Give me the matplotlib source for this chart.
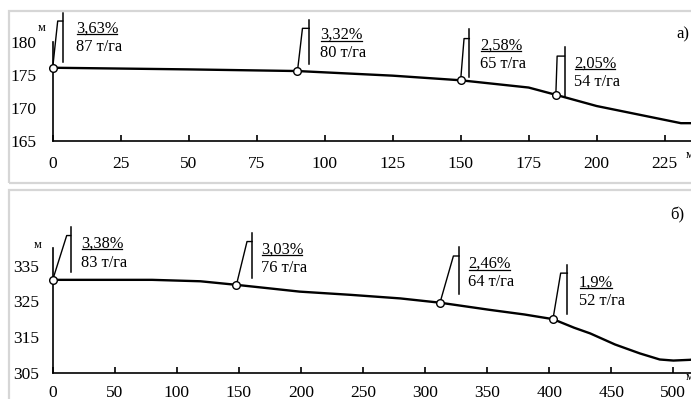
import matplotlib
matplotlib.use("Agg")
import matplotlib.pyplot as plt
from matplotlib.transforms import ScaledTranslation, IdentityTransform
from matplotlib.patches import Rectangle
from matplotlib.lines import Line2D

plt.rcParams['font.family'] = ['Liberation Serif', 'DejaVu Serif']

# profile a)
dist_a = [0, 50, 90, 125, 150, 175, 185, 200, 231, 240]
elev_a = [176.1, 175.85, 175.6, 174.9, 174.2, 173.1, 172.0, 170.3, 167.7, 167.7]
st_a = [0, 90, 150, 185]
st_elev_a = [176.1, 175.6, 174.2, 172.0]
pct_a = ['3,63%', '3,32%', '2,58%', '2,05%']
load_a = ['87 т/га', '80 т/га', '65 т/га', '54 т/га']

# profile б)
dist_b = [0, 50, 80, 119, 148, 175, 199, 240, 280, 312, 352, 380, 403, 420, 433,
          453, 473, 489, 500, 513, 520]
elev_b = [331.0, 331.0, 331.0, 330.6, 329.6, 328.6, 327.7, 326.8, 325.8, 324.6,
          322.6, 321.3, 320.0, 317.6, 316.0, 312.9, 310.4, 308.7, 308.4, 308.6, 308.8]
st_b = [0, 148, 312, 403]
st_elev_b = [331.0, 329.6, 324.6, 320.0]
pct_b = ['3,38%', '3,03%', '2,46%', '1,9%']
load_b = ['83 т/га', '76 т/га', '64 т/га', '52 т/га']

# flag geometry in pixels: slant dx, top dy, cap dx, vline top, vline bottom, text dx, line1 dy, line2 dy
flags_a = [(5, 46.7, 10, 54.7, 5.7, 23.3, 39.4, 21),
           (5, 42.7, 11.7, 51, 6.7, 23, 36, 18),
           (3.4, 41.7, 8.7, 51, 3, 19.4, 34.3, 16),
           (1.3, 38.7, 8.7, 48, -2, 18.3, 31.4, 13)]
flags_b = [(14, 44.3, 18, 53.3, 8.3, 28.3, 36.7, 17.3),
           (10.6, 43.3, 15.6, 51.7, 6.7, 24.3, 35.7, 17.3),
           (13.4, 46.7, 19, 55.4, 8.7, 28.4, 38.7, 21),
           (7.7, 46, 14.4, 54.3, 5.3, 26, 36.6, 18.3)]

W, H = 691, 399
fig = plt.figure(figsize=(W / 100, H / 100), dpi=100)

# grey panel frames
for y0, y1 in [(11, 183), (190, 420)]:
    fig.add_artist(Rectangle((9, H - y1), 700, y1 - y0, fill=False, ec='#d6d6d6',
                             lw=1.6, transform=IdentityTransform()))


def make_axes(left_px, y_bottom_px, y_top_px):
    return fig.add_axes((left_px / W, (H - y_bottom_px) / H,
                         (W - left_px) / W, (y_bottom_px - y_top_px) / H))


ax_a = make_axes(52.7, 141, 42)
ax_b = make_axes(52.7, 372.7, 247.7)

underlines = []


def draw_panel(ax, dist, elev, st, st_elev, pct, load, flags, xlim, ylim, xticks, yticks, pads):
    ax.set_xlim(*xlim)
    ax.set_ylim(*ylim)
    ax.patch.set_alpha(0)
    for s in ['top', 'right']:
        ax.spines[s].set_visible(False)
    for s in ['left', 'bottom']:
        ax.spines[s].set_linewidth(1.2)
    ax.set_xticks(xticks)
    ax.set_yticks(yticks)
    ax.tick_params(axis='x', direction='in', length=4, width=1.2, pad=pads[0], labelsize=12.5)
    ax.tick_params(axis='y', length=0, pad=pads[1], labelsize=12.5)
    ax.plot(dist, elev, color='black', lw=1.7, clip_on=True, zorder=3)
    ax.plot(st, st_elev, 'o', ms=5.5, mfc='white', mec='black', mew=1.0, zorder=5, clip_on=False)
    for x, y, p, l, f in zip(st, st_elev, pct, load, flags):
        sdx, tdy, cdx, vt, vb, tdx, l1, l2 = f
        tr = fig.dpi_scale_trans + ScaledTranslation(x, y, ax.transData)
        ax.plot([0, sdx / 100, cdx / 100], [0, tdy / 100, tdy / 100], color='black',
                lw=1.0, transform=tr, clip_on=False, zorder=4)
        ax.plot([cdx / 100, cdx / 100], [vt / 100, vb / 100], color='black',
                lw=1.1, transform=tr, clip_on=False, zorder=4)
        t1 = ax.text(tdx / 100, l1 / 100, p, transform=tr, ha='left', va='center',
                     fontsize=11.8)
        ax.text(tdx / 100, l2 / 100, l, transform=tr, ha='left', va='center', fontsize=11.8)
        underlines.append(t1)


draw_panel(ax_a, dist_a, elev_a, st_a, st_elev_a, pct_a, load_a, flags_a,
           (0, 234.7), (165, 180), [0, 25, 50, 75, 100, 125, 150, 175, 200, 225],
           [165, 170, 175, 180], (11, 12))
draw_panel(ax_b, dist_b, elev_b, st_b, st_elev_b, pct_b, load_b, flags_b,
           (0, 514.2), (305, 340), [0, 50, 100, 150, 200, 250, 300, 350, 400, 450, 500],
           [305, 315, 325, 335], (9, 10))

# unit labels and panel letters
fig.text(41.7 / W, 1 - 28 / H, 'м', fontsize=9, ha='center', va='center')
fig.text(686 / W, 1 - 155 / H, 'м', fontsize=9, ha='left', va='center')
fig.text(38 / W, 1 - 245 / H, 'м', fontsize=9, ha='center', va='center')
fig.text(686 / W, 1 - 377 / H, 'м', fontsize=9, ha='left', va='center')
fig.text(676 / W, 1 - 34 / H, 'а)', fontsize=12, ha='left', va='center')
fig.text(677 / W, 1 - 215 / H, 'б)', fontsize=12, ha='center', va='center')

fig.canvas.draw()
r = fig.canvas.get_renderer()
for t in underlines:
    bb = t.get_window_extent(r)
    fig.add_artist(Line2D([bb.x0 + 1, bb.x1 - 1], [bb.y0 + 2.5, bb.y0 + 2.5], color='black',
                          lw=0.9, transform=IdentityTransform()))

fig.savefig('out.png', dpi=100)
